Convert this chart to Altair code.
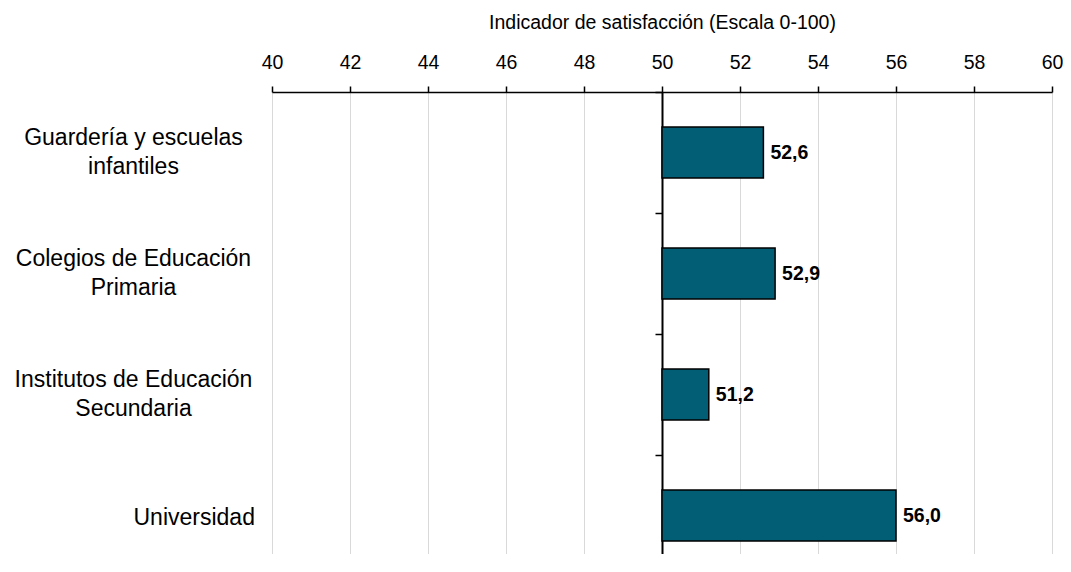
import altair as alt
import pandas as pd

categories = [
    "Guardería y escuelas|infantiles",
    "Colegios de Educación|Primaria",
    "Institutos de Educación|Secundaria",
    "Universidad",
]
values = [52.6, 52.9, 51.2, 56.0]
x_ticks = [40, 42, 44, 46, 48, 50, 52, 54, 56, 58, 60]

df = pd.DataFrame({"cat": categories, "v": values})

FONT = "Liberation Sans"
BAR = "#015E75"

yscale = alt.Scale(domain=categories, range=[0, 484], paddingInner=0.58, paddingOuter=0.29)
xscale = alt.Scale(domain=[40, 60], nice=False, zero=False)

single = "indexof(datum.value, '|') < 0"

base = alt.Chart(df)

bars = base.mark_bar(color=BAR, stroke="black", strokeWidth=1.5).encode(
    y=alt.Y("cat:N", sort=categories, scale=yscale,
            axis=alt.Axis(orient="left", title=None, ticks=False, domain=False,
                          labelExpr="split(datum.label, '|')", labelFont=FONT,
                          labelFontSize=23, labelColor="black",
                          labelAlign={"condition": {"test": single, "value": "left"}, "value": "center"},
                          labelOffset={"condition": {"test": single, "value": 2}, "value": -15},
                          labelPadding=139, labelLineHeight=29, labelLimit=400)),
    x=alt.X("v:Q", scale=xscale,
            axis=alt.Axis(orient="top", values=x_ticks, title="Indicador de satisfacción (Escala 0-100)",
                          titleFont=FONT, titleFontSize=19.5, titleFontWeight="normal", titleColor="black",
                          titlePadding=20, labelFont=FONT, labelFontSize=19.5, labelColor="black",
                          labelPadding=14, tickSize=6, tickColor="black", domainColor="black",
                          domainWidth=1.5, tickWidth=1.5, grid=True, gridColor="#d9d9d9",
                          gridWidth=1, labelFlush=False)),
    x2=alt.datum(50),
)

labels = base.transform_calculate(
    lab="replace(format(datum.v, '.1f'), '.', ',')"
).mark_text(align="left", baseline="middle", dx=7, font=FONT, fontSize=19.5,
            fontWeight="bold", color="black").encode(
    y=alt.Y("cat:N", sort=categories, scale=yscale,
            axis=alt.Axis(orient="left", title=None, labels=False, ticks=True, tickOffset=-60.5,
                          tickSize=7, tickColor="black", tickWidth=1.5, domain=True,
                          domainColor="black", domainWidth=2, offset=-390, grid=False)),
    x=alt.X("v:Q", scale=xscale),
    text="lab:N",
)

chart = alt.layer(bars, labels).resolve_axis(y="independent").properties(
    width=780, height=462,
    autosize=alt.AutoSizeParams(type="none"),
    padding={"left": 264, "top": 84, "right": 11, "bottom": 0},
).configure_view(stroke=None)

chart.save("out.html", embed_options={"renderer": "svg", "actions": False})
